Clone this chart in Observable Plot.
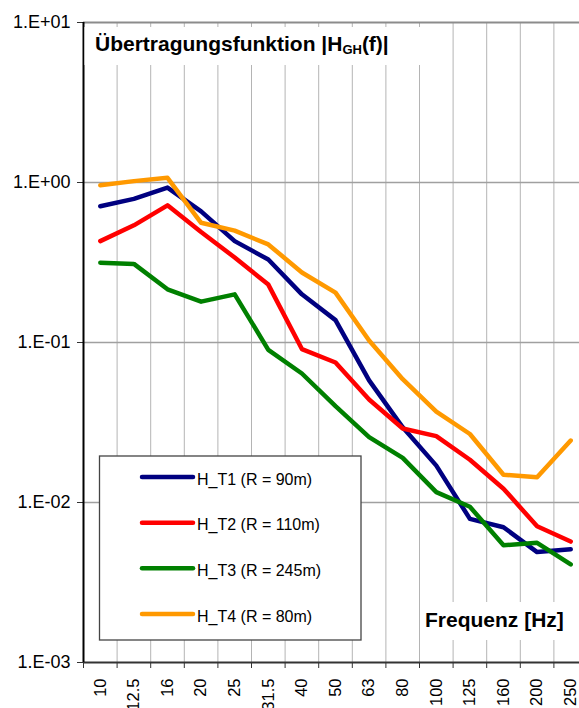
<!DOCTYPE html>
<html>
<head>
<meta charset="utf-8">
<script src="https://cdn.jsdelivr.net/npm/d3@7"></script>
<script src="https://cdn.jsdelivr.net/npm/@observablehq/plot@0.6"></script>
<style>
  html, body { margin: 0; padding: 0; background: white; overflow: hidden; }
  svg { max-width: none !important; display: block; }
</style>
</head>
<body>
<div id="chart"></div>
<script>
const categories = ["10","12.5","16","20","25","31.5","40","50","63","80","100","125","160","200","250"];
const seriesNames = ["H_T1 (R = 90m)", "H_T2 (R = 110m)", "H_T3 (R = 245m)", "H_T4 (R = 80m)"];
const seriesColors = ["#000080", "#ff0000", "#008000", "#ff9900"];
const H_T1 = [0.71, 0.79, 0.93, 0.66, 0.43, 0.33, 0.20, 0.138, 0.058, 0.0295, 0.017, 0.0079, 0.0070, 0.0049, 0.0051];
const H_T2 = [0.43, 0.54, 0.72, 0.49, 0.34, 0.23, 0.091, 0.075, 0.044, 0.029, 0.026, 0.0185, 0.0122, 0.0071, 0.0057];
const H_T3 = [0.315, 0.31, 0.215, 0.18, 0.20, 0.090, 0.064, 0.040, 0.0256, 0.019, 0.0116, 0.0094, 0.0054, 0.0056, 0.0041];
const H_T4 = [0.96, 1.02, 1.07, 0.56, 0.50, 0.41, 0.274, 0.205, 0.103, 0.059, 0.037, 0.0268, 0.0149, 0.0144, 0.0244];
const yTickValues = [10, 1, 0.1, 0.01, 0.001];
const yTickLabels = ["1.E+01", "1.E+00", "1.E-01", "1.E-02", "1.E-03"];
const titleMain = "Übertragungsfunktion |H";
const titleSub = "GH";
const titleEnd = "(f)|";
const xTitle = "Frequenz [Hz]";

const allSeries = [H_T1, H_T2, H_T3, H_T4];
const data = [];
allSeries.forEach((vals, s) => vals.forEach((v, i) => data.push({series: seriesNames[s], i, v})));

const n = categories.length;
const idx = d3.range(n);
const bounds = d3.range(n + 1).map(k => k - 0.5);
const innerBounds = bounds.slice(1);

const font = "'Liberation Sans', Arial, sans-serif";

const plot = Plot.plot({
  width: 588,
  height: 708,
  marginLeft: 83,
  marginRight: 1,
  marginTop: 22,
  marginBottom: 46,
  style: {fontFamily: font, background: "white", color: "black"},
  x: {type: "linear", domain: [-0.5, n - 0.5]},
  y: {type: "log", domain: [1e-3, 10]},
  color: {domain: seriesNames, range: seriesColors},
  marks: [
    Plot.ruleX(innerBounds, {stroke: "#b4b4b4", strokeWidth: 1}),
    Plot.ruleY([1, 0.1, 0.01], {stroke: "#a0a0a0", strokeWidth: 1.5}),
    Plot.ruleY([10], {stroke: "#8c8c8c", strokeWidth: 2}),
    Plot.axisY(yTickValues, {
      tickFormat: d => yTickLabels[yTickValues.indexOf(d)],
      tickSize: 6, tickPadding: 7, fontSize: 18, stroke: "#333", label: null
    }),
    Plot.axisX(bounds, {tickSize: 6, tickFormat: () => "", stroke: "#333", label: null}),
    Plot.axisX(idx, {
      tickFormat: i => categories[i], tickSize: 0, tickPadding: 16,
      tickRotate: -90, fontSize: 16.5, label: null
    }),
    Plot.ruleY([1e-3], {stroke: "#333", strokeWidth: 2}),
    Plot.ruleX([-0.5], {stroke: "#000", strokeWidth: 2}),
    Plot.line(data, {x: "i", y: "v", stroke: "series", z: "series", strokeWidth: 4.5,
      strokeLinejoin: "round", strokeLinecap: "round"})
  ]
});

document.getElementById("chart").appendChild(plot);

const svg = d3.select(plot);
// title with white background
svg.append("rect").attr("x", 84.5).attr("y", 27).attr("width", 355).attr("height", 38).attr("fill", "white");
const t = svg.append("text").attr("x", 95).attr("y", 51).attr("text-anchor", "start")
  .attr("font-family", font).attr("font-weight", "bold").attr("font-size", 21).attr("fill", "black");
t.append("tspan").text(titleMain);
t.append("tspan").attr("font-size", 13).attr("dy", 3).text(titleSub);
t.append("tspan").attr("dy", -3).text(titleEnd);

// x axis title
svg.append("rect").attr("x", 421).attr("y", 602).attr("width", 170).attr("height", 38).attr("fill", "white");
svg.append("text").attr("x", 425).attr("y", 627).attr("text-anchor", "start")
  .attr("font-family", font).attr("font-weight", "bold").attr("font-size", 21).attr("fill", "black")
  .text(xTitle);

// legend
const lg = svg.append("g");
lg.append("rect").attr("x", 99.5).attr("y", 456).attr("width", 261.5).attr("height", 184)
  .attr("fill", "white").attr("stroke", "#444").attr("stroke-width", 1.3);
const rowY = [477, 522.7, 568.3, 614];
seriesNames.forEach((name, k) => {
  lg.append("line").attr("x1", 142).attr("x2", 193).attr("y1", rowY[k]).attr("y2", rowY[k])
    .attr("stroke", seriesColors[k]).attr("stroke-width", 4.5).attr("stroke-linecap", "round");
  lg.append("text").attr("x", 197).attr("y", rowY[k] + 7.5).attr("text-anchor", "start")
    .attr("font-family", font).attr("font-size", 16).attr("fill", "black").text(name);
});
</script>
</body>
</html>
